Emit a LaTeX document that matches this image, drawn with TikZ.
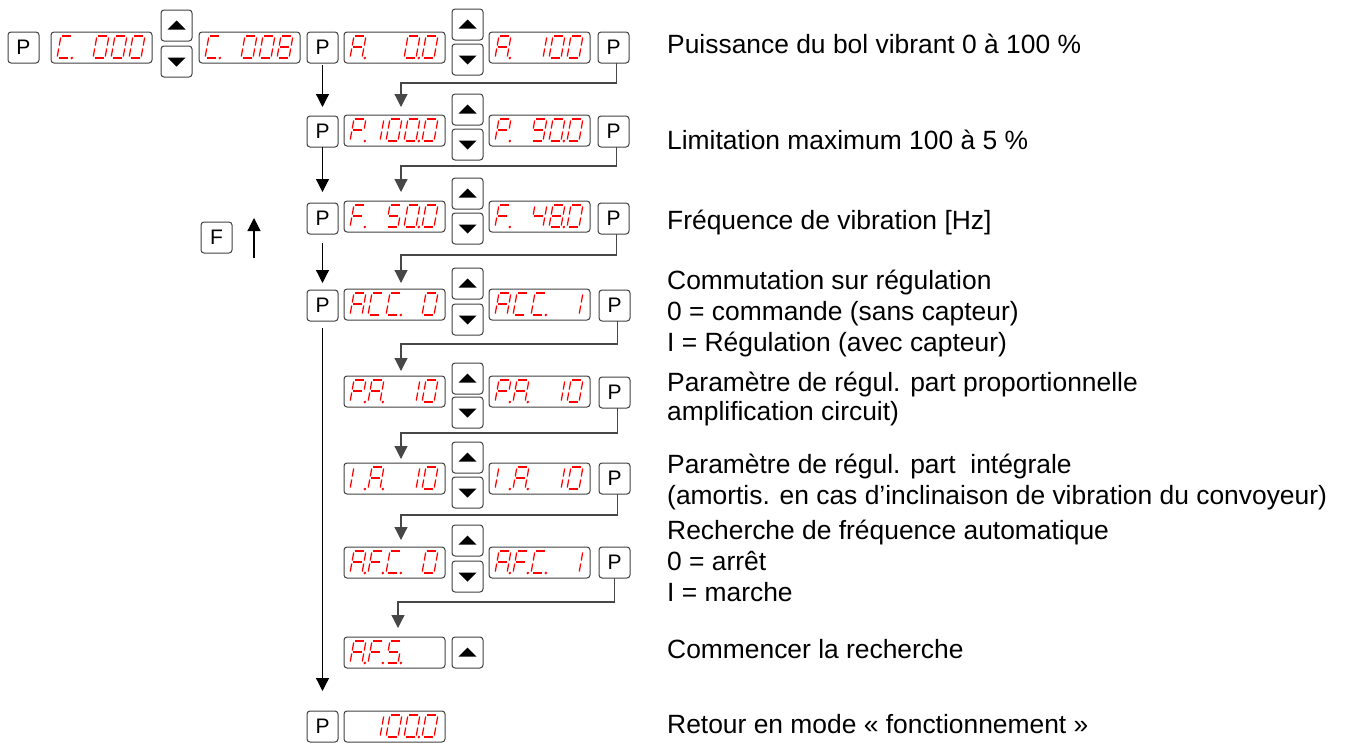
\documentclass[tikz,border=0pt]{standalone}
\usepackage{fontspec}
\setmainfont{Liberation Sans}
\usetikzlibrary{arrows.meta}

% --- seven-segment display segments (local frame: origin bottom-left, y up)
\tikzset{seg/.style={draw=red, line width=1.25pt}}
\newcommand\sgA{\draw[seg] (1.5,22) -- (10.5,22);}
\newcommand\sgB{\draw[seg] (12,20.5) -- (12,12.5);}
\newcommand\sgC{\draw[seg] (12,9.5) -- (12,1.5);}
\newcommand\sgD{\draw[seg] (1.5,0) -- (10.5,0);}
\newcommand\sgE{\draw[seg] (0,1.5) -- (0,9.5);}
\newcommand\sgF{\draw[seg] (0,12.5) -- (0,20.5);}
\newcommand\sgG{\draw[seg] (1.5,11) -- (10.5,11);}

% one character: #1 position (1..5), #2 segment list, #3 decimal point (0/1)
\newcommand\ssdig[3]{%
  \begin{scope}[x=1pt,y=1pt,shift={({6+18*(#1-1)},5)},xslant=0.18]
    \foreach \s in {#2}{\csname sg\s\endcsname}
    \ifnum#3=1 \fill[red] (14.8,0) circle (1.4pt);\fi
  \end{scope}}
\newcommand\ssZero[2]{\ssdig{#1}{A,B,C,D,E,F}{#2}}
\newcommand\ssOne[2]{\ssdig{#1}{B,C}{#2}}
\newcommand\ssFour[2]{\ssdig{#1}{B,C,F,G}{#2}}
\newcommand\ssFive[2]{\ssdig{#1}{A,C,D,F,G}{#2}}
\newcommand\ssEight[2]{\ssdig{#1}{A,B,C,D,E,F,G}{#2}}
\newcommand\ssNine[2]{\ssdig{#1}{A,B,C,D,F,G}{#2}}
\newcommand\ssA[2]{\ssdig{#1}{A,B,C,E,F,G}{#2}}
\newcommand\ssC[2]{\ssdig{#1}{A,D,E,F}{#2}}
\newcommand\ssF[2]{\ssdig{#1}{A,E,F,G}{#2}}
\newcommand\ssP[2]{\ssdig{#1}{A,B,E,F,G}{#2}}
\newcommand\ssI[2]{\ssdig{#1}{E,F}{#2}}

\tikzset{
  box/.style={draw=black!75, line width=1pt, rounded corners=3pt,
    inner sep=0pt, outer sep=0pt, anchor=north west},
  dispbox/.style={box, minimum width=101pt, minimum height=31pt},
  key/.style={box, minimum width=31pt, minimum height=31pt,
    font=\fontsize{21}{21}\selectfont},
  upkey/.style={key, path picture={\fill[sharp corners] (path picture bounding box.center)
    ++(-9,4) -- ++(18,0) -- ++(-9,-9) -- cycle;}},
  downkey/.style={key, path picture={\fill[sharp corners] (path picture bounding box.center)
    ++(-9,-4) -- ++(18,0) -- ++(-9,9) -- cycle;}},
  arr/.style={line width=1.2pt, -{Triangle[width=13pt,length=13pt]}},
  conn/.style={arr, draw=black!72},
  txt/.style={anchor=base west, inner sep=0pt, font=\fontsize{26.4}{31}\selectfont},
}

% display: #1 name, #2 left, #3 top, #4 characters
\newcommand\disp[4]{%
  \node[dispbox] (#1) at (#2,#3) {};
  \begin{scope}[shift={(#1.south west)}]#4\end{scope}}

\begin{document}
\begin{tikzpicture}[x=1pt,y=-1pt]
\useasboundingbox (0,0) rectangle (1348,742);

% ---------- row 1: code entry, then power setting
\node[key] (P0) at (8,32) {P};
\disp{dC0}{51}{32}{\ssC{1}{1}\ssZero{3}{0}\ssZero{4}{0}\ssZero{5}{0}}
\node[upkey] (u1a) at (161,10) {};
\node[downkey] (d1a) at (161,46) {};
\disp{dC8}{199}{32}{\ssC{1}{1}\ssZero{3}{0}\ssZero{4}{0}\ssEight{5}{0}}
\node[key] (P1) at (307,32) {P};
\disp{dA0}{344}{32}{\ssA{1}{1}\ssZero{4}{1}\ssZero{5}{0}}
\node[upkey] (u1) at (452,9) {};
\node[downkey] (d1) at (452,44) {};
\disp{dA1}{489}{32}{\ssA{1}{1}\ssOne{3}{0}\ssZero{4}{0}\ssZero{5}{0}}
\node[key] (R1) at (598,32) {P};

% ---------- row 2: maximum limitation
\node[key] (P2) at (307,116) {P};
\disp{dP0}{344}{115}{\ssP{1}{1}\ssOne{2}{0}\ssZero{3}{0}\ssZero{4}{1}\ssZero{5}{0}}
\node[upkey] (u2) at (452,94) {};
\node[downkey] (d2) at (452,129) {};
\disp{dP1}{489}{115}{\ssP{1}{1}\ssNine{3}{0}\ssZero{4}{1}\ssZero{5}{0}}
\node[key] (R2) at (598,116) {P};

% ---------- row 3: frequency
\node[key] (F) at (201,222) {F};
\node[key] (P3) at (307,203) {P};
\disp{dF0}{344}{201}{\ssF{1}{1}\ssFive{3}{0}\ssZero{4}{1}\ssZero{5}{0}}
\node[upkey] (u3) at (452,178) {};
\node[downkey] (d3) at (452,213) {};
\disp{dF1}{489}{201}{\ssF{1}{1}\ssFour{3}{0}\ssEight{4}{1}\ssZero{5}{0}}
\node[key] (R3) at (598,203) {P};

% ---------- row 4: control mode
\node[key] (P4) at (307,290) {P};
\disp{dR0}{344}{289}{\ssA{1}{0}\ssC{2}{0}\ssC{3}{1}\ssZero{5}{0}}
\node[upkey] (u4) at (452,268) {};
\node[downkey] (d4) at (452,304) {};
\disp{dR1}{489}{289}{\ssA{1}{0}\ssC{2}{0}\ssC{3}{1}\ssOne{5}{0}}
\node[key] (R4) at (599,290) {P};

% ---------- row 5: proportional part
\disp{dPA0}{344}{376}{\ssP{1}{1}\ssA{2}{1}\ssOne{4}{0}\ssZero{5}{0}}
\node[upkey] (u5) at (452,363) {};
\node[downkey] (d5) at (452,397) {};
\disp{dPA1}{489}{376}{\ssP{1}{1}\ssA{2}{1}\ssOne{4}{0}\ssZero{5}{0}}
\node[key] (R5) at (599,377) {P};

% ---------- row 6: integral part
\disp{dIA0}{344}{463}{\ssI{1}{1}\ssA{2}{1}\ssOne{4}{0}\ssZero{5}{0}}
\node[upkey] (u6) at (452,442) {};
\node[downkey] (d6) at (452,477) {};
\disp{dIA1}{489}{463}{\ssI{1}{1}\ssA{2}{1}\ssOne{4}{0}\ssZero{5}{0}}
\node[key] (R6) at (599,463) {P};

% ---------- row 7: automatic frequency search
\disp{dAF0}{344}{547}{\ssA{1}{1}\ssF{2}{1}\ssC{3}{1}\ssZero{5}{0}}
\node[upkey] (u7) at (452,525) {};
\node[downkey] (d7) at (452,561) {};
\disp{dAF1}{489}{547}{\ssA{1}{1}\ssF{2}{1}\ssC{3}{1}\ssOne{5}{0}}
\node[key] (R7) at (599,547) {P};

% ---------- row 8: start search
\disp{dAS}{344}{637}{\ssA{1}{1}\ssF{2}{1}\ssFive{3}{1}}
\node[upkey] (u8) at (452,637) {};

% ---------- row 9: back to operation
\node[key] (P9) at (307,711) {P};
\disp{dRun}{344}{711}{\ssOne{2}{0}\ssZero{3}{0}\ssZero{4}{1}\ssZero{5}{0}}

% ---------- P chain on the left
\draw[arr, shorten <=2pt, shorten >=9pt] (P1.south) -- (P2.north);
\draw[arr, shorten >=11pt] (P2.south) -- (P3.north);
\draw[arr, shorten <=9pt, shorten >=7pt] (P3.south) -- (P4.north);
\draw[arr, shorten <=7pt, shorten >=20pt] (P4.south) -- (P9.north);

% ---------- F key direction
\coordinate (fbot) at (254,258);
\coordinate (ftop) at (254,218);
\draw[arr] (fbot) -- (ftop);

% ---------- P keys on the right lead to the next parameter
\draw[conn, shorten >=8pt] ([xshift=3pt]R1.south) -- ++(0,20) -| ([xshift=57pt]dP0.north west);
\draw[conn, shorten >=9pt] ([xshift=3pt]R2.south) -- ++(0,19) -| ([xshift=57pt]dF0.north west);
\draw[conn, shorten >=6pt] ([xshift=3pt]R3.south) -- ++(0,21) -| ([xshift=57pt]dR0.north west);
\draw[conn, shorten >=5pt] ([xshift=3pt]R4.south) -- ++(0,23) -| ([xshift=57pt]dPA0.north west);
\draw[conn, shorten >=4pt] ([xshift=3pt]R5.south) -- ++(0,25) -| ([xshift=57pt]dIA0.north west);
\draw[conn, shorten >=7pt] ([xshift=3pt]R6.south) -- ++(0,21) -| ([xshift=57pt]dAF0.north west);
\draw[conn, shorten >=9pt] (R7.south) -- ++(0,24) -| ([xshift=54pt]dAS.north west);

% ---------- descriptions
\node[txt] (t1) at (667,53) {Puissance du bol vibrant 0 à 100 \%};
\node[txt] (t2) at (667,149) {Limitation maximum 100 à 5 \%};
\node[txt] (t3) at (667,229) {Fréquence de vibration [Hz]};
\node[txt] (t4) at (667,289) {Commutation sur régulation};
\node[txt] (t5) at (667,320) {0 = commande (sans capteur)};
\node[txt] (t6) at (667,351) {I = Régulation (avec capteur)};
\node[txt] (t7) at (667,391) {Paramètre de régul. part proportionnelle};
\node[txt] (t8) at (667,420) {amplification circuit)};
\node[txt] (t9) at (667,473) {Paramètre de régul. part\ \ intégrale};
\node[txt] (t10) at (667,504) {(amortis. en cas d’inclinaison de vibration du convoyeur)};
\node[txt] (t11) at (667,539) {Recherche de fréquence automatique};
\node[txt] (t12) at (667,570) {0 = arrêt};
\node[txt] (t13) at (667,601) {I = marche};
\node[txt] (t14) at (667,658) {Commencer la recherche};
\node[txt] (t15) at (667,733) {Retour en mode « fonctionnement »};
\end{tikzpicture}
\end{document}
